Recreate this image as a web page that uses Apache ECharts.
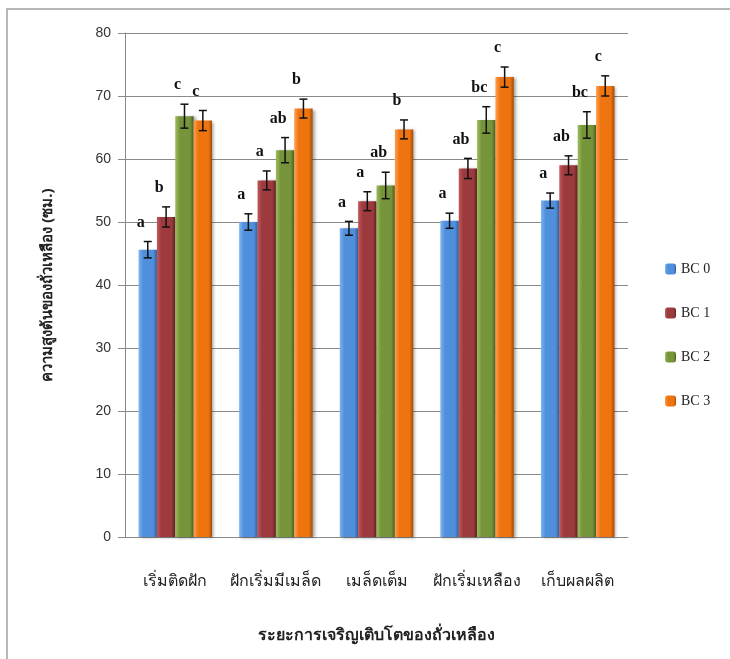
<!DOCTYPE html>
<html>
<head>
<meta charset="utf-8">
<script src="https://cdn.jsdelivr.net/npm/echarts@6/dist/echarts.min.js"></script>
<style>
  html, body { margin: 0; padding: 0; background: #fff; }
  #chart { width: 730px; height: 659px; }
</style>
</head>
<body>
<div id="chart"></div>
<script>
// Soybean growth stages
const categories = ['เริ่มติดฝัก', 'ฝักเริ่มมีเมล็ด', 'เมล็ดเต็ม', 'ฝักเริ่มเหลือง', 'เก็บผลผลิต'];
const seriesNames = ['BC 0', 'BC 1', 'BC 2', 'BC 3'];

// Mean plant height (cm) per treatment
const bc0 = [45.6, 50.0, 49.0, 50.2, 53.4];
const bc1 = [50.8, 56.6, 53.3, 58.5, 59.0];
const bc2 = [66.8, 61.4, 55.8, 66.2, 65.4];
const bc3 = [66.1, 68.0, 64.7, 73.0, 71.6];

// Standard errors
const bc0Err = [1.3, 1.3, 1.1, 1.2, 1.2];
const bc1Err = [1.6, 1.5, 1.5, 1.6, 1.5];
const bc2Err = [1.9, 2.0, 2.1, 2.1, 2.1];
const bc3Err = [1.6, 1.5, 1.5, 1.6, 1.6];

// Significance letters
const bc0Letters = ['a', 'a', 'a', 'a', 'a'];
const bc1Letters = ['b', 'a', 'a', 'ab', 'ab'];
const bc2Letters = ['c', 'ab', 'ab', 'bc', 'bc'];
const bc3Letters = ['c', 'b', 'b', 'c', 'c'];

const yTicks = [0, 10, 20, 30, 40, 50, 60, 70, 80];

const means = [bc0, bc1, bc2, bc3];
const errs = [bc0Err, bc1Err, bc2Err, bc3Err];
const letters = [bc0Letters, bc1Letters, bc2Letters, bc3Letters];

const palette = [
  { light: '#7fb3f0', base: '#4f8fdc', dark: '#2f5f9e' },
  { light: '#c0585c', base: '#9c3a3d', dark: '#5e1f21' },
  { light: '#9cbd5c', base: '#76953a', dark: '#4a5f22' },
  { light: '#ffa050', base: '#ee7410', dark: '#a44b05' }
];

const CAT_GAP = 0.27;
const N = seriesNames.length;

function barGradient(c) {
  return new echarts.graphic.LinearGradient(0, 0, 1, 0, [
    { offset: 0, color: c.light },
    { offset: 0.25, color: c.base },
    { offset: 0.8, color: c.base },
    { offset: 1, color: c.dark }
  ]);
}

const barSeries = seriesNames.map((name, s) => ({
  name: name,
  type: 'bar',
  data: means[s],
  barGap: '0%',
  barCategoryGap: (CAT_GAP * 100) + '%',
  itemStyle: {
    color: barGradient(palette[s]),
    shadowColor: 'rgba(0,0,0,0.35)',
    shadowBlur: 3,
    shadowOffsetX: 2,
    shadowOffsetY: 1
  },
  z: 2
}));

// Error bars and significance letters drawn on top of each bar
const errSeries = seriesNames.map((name, s) => ({
  name: name + ' err',
  type: 'custom',
  data: means[s].map((v, i) => [i, v, errs[s][i]]),
  encode: { x: 0, y: 1 },
  z: 5,
  silent: true,
  renderItem: function (params, api) {
    const ci = api.value(0);
    const v = api.value(1);
    const e = api.value(2);
    const band = api.size([1, 0])[0];
    const groupW = band * (1 - CAT_GAP);
    const barW = groupW / N;
    const center = api.coord([ci, v]);
    const x = center[0] - groupW / 2 + barW * (s + 0.5);
    const yHi = api.coord([ci, v + e])[1];
    const yLo = api.coord([ci, v - e])[1];
    const cap = 4;
    const style = { stroke: '#111', lineWidth: 1.5 };
    return {
      type: 'group',
      children: [
        { type: 'line', shape: { x1: x, y1: yHi, x2: x, y2: yLo }, style: style },
        { type: 'line', shape: { x1: x - cap, y1: yHi, x2: x + cap, y2: yHi }, style: style },
        { type: 'line', shape: { x1: x - cap, y1: yLo, x2: x + cap, y2: yLo }, style: style },
        {
          type: 'text',
          x: x - 7,
          y: yHi - 19,
          style: {
            text: letters[s][ci],
            fill: '#111',
            font: 'bold 16px "Liberation Serif", "DejaVu Serif", serif',
            align: 'center',
            verticalAlign: 'middle'
          }
        }
      ]
    };
  }
}));

const chart = echarts.init(document.getElementById('chart'), null, { renderer: 'canvas' });

chart.setOption({
  backgroundColor: '#fff',
  animation: false,
  graphic: [{
    type: 'rect',
    shape: { x: 7, y: 9, width: 740, height: 700 },
    style: { fill: 'none', stroke: '#a0a0a0', lineWidth: 1.5 },
    silent: true,
    z: -10
  }],
  grid: { left: 125, right: 102, top: 33, bottom: 122 },
  legend: {
    orient: 'vertical',
    left: 660,
    top: 257,
    itemWidth: 11,
    itemHeight: 11,
    itemGap: 30,
    data: seriesNames,
    textStyle: {
      fontFamily: '"Liberation Serif", "DejaVu Serif", serif',
      fontSize: 14,
      color: '#222'
    }
  },
  xAxis: {
    type: 'category',
    data: categories,
    axisLine: { lineStyle: { color: '#8a8a8a', width: 1 } },
    axisTick: { show: false },
    axisLabel: {
      interval: 0,
      margin: 36,
      fontSize: 16,
      color: '#222',
      fontFamily: '"Noto Sans", sans-serif'
    },
    name: 'ระยะการเจริญเติบโตของถั่วเหลือง',
    nameLocation: 'middle',
    nameGap: 90,
    nameTextStyle: {
      fontSize: 16,
      fontWeight: 'bold',
      color: '#222',
      fontFamily: '"Noto Sans", sans-serif'
    }
  },
  yAxis: {
    type: 'value',
    min: yTicks[0],
    max: yTicks[yTicks.length - 1],
    interval: yTicks[1] - yTicks[0],
    axisLine: { show: true, lineStyle: { color: '#8a8a8a', width: 1 } },
    axisTick: { show: true, length: 7, inside: false, lineStyle: { color: '#8a8a8a' } },
    splitLine: { lineStyle: { color: '#8a8a8a', width: 1 } },
    axisLabel: {
      margin: 14,
      fontSize: 14,
      color: '#333',
      fontFamily: '"Liberation Sans", "DejaVu Sans", sans-serif'
    },
    name: 'ความสูงต้นของถั่วเหลือง (ซม.)',
    nameLocation: 'middle',
    nameRotate: 90,
    nameGap: 70,
    nameTextStyle: {
      fontSize: 15,
      fontWeight: 'bold',
      color: '#222',
      fontFamily: '"Noto Sans", sans-serif'
    }
  },
  series: barSeries.concat(errSeries)
});
</script>
</body>
</html>
